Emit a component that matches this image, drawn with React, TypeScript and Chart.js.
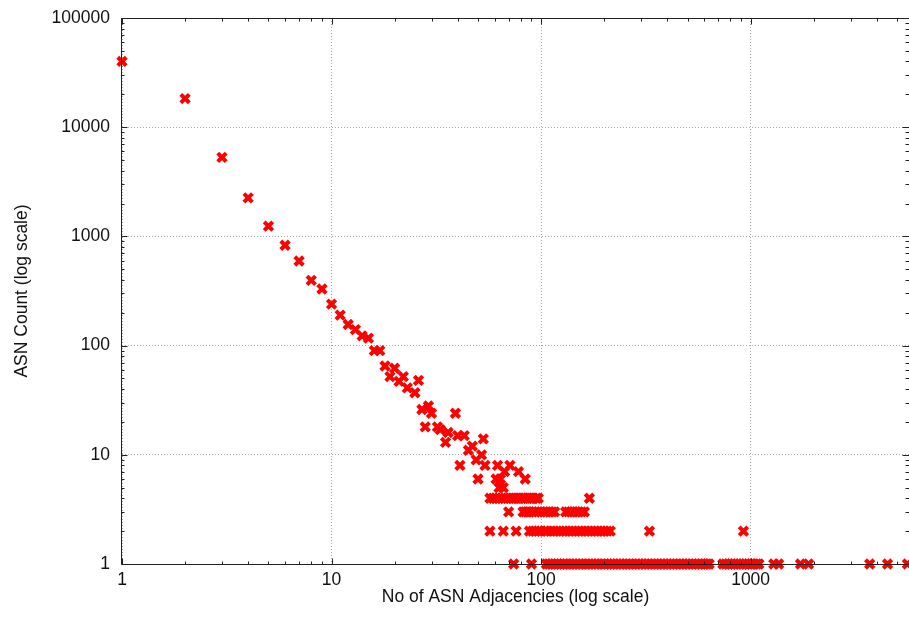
import React, { useEffect, useRef } from "react";
import { Chart, registerables } from "chart.js";

Chart.register(...registerables);

// Distinct (degree, count) points of the head of the distribution
const headDegrees = [1, 2, 3, 4, 5, 6, 7, 8, 9, 10, 11, 12, 13, 14, 15, 16, 17, 18, 19, 20, 21, 22, 23, 25, 26, 27, 28, 29, 30, 32, 33, 35, 36, 39, 40, 41, 43, 45, 47, 49, 50, 52, 53, 54, 61, 62, 63, 64, 66, 67, 71, 78, 84];
const headCounts = [40000, 18300, 5300, 2250, 1240, 830, 595, 395, 330, 240, 190, 156, 140, 123, 117, 90, 90, 65, 52, 62, 47, 52, 41, 37, 48, 26, 18, 28, 24, 18, 17, 13, 16, 24, 15, 8, 15, 11, 12, 9, 6, 10, 14, 8, 6, 8, 5, 6, 5, 7, 8, 7, 6];

// Degrees whose ASN count is 4, 3, 2 and 1
const degreesWithCount4 = [57, 59, 61, 63, 65, 67, 69, 71, 73, 75, 77, 79, 81, 83, 86, 88, 90, 92, 95, 97, 170];
const degreesWithCount3 = [70, 82, 84, 86, 88, 91, 94, 97, 100, 103, 106, 110, 113, 116, 131, 135, 139, 143, 147, 151, 156, 161];
const degreesWithCount2 = [57, 66, 76, 88, 91, 94, 97, 100, 104, 107, 111, 115, 119, 123, 127, 131, 136, 141, 146, 151, 156, 162, 168, 174, 180, 186, 193, 200, 207, 214, 329, 924];
const degreesWithCount1 = [74, 90, 106, 109, 112, 116, 120, 124, 128, 132, 137, 142, 147, 152, 157, 163, 169, 175, 181, 187, 194, 201, 208, 215, 222, 230, 238, 246, 255, 264, 273, 283, 293, 303, 314, 325, 336, 348, 360, 373, 386, 400, 414, 428, 443, 459, 475, 492, 509, 527, 545, 564, 584, 605, 620, 634, 737, 760, 785, 810, 836, 862, 890, 918, 947, 977, 1008, 1040, 1070, 1095, 1290, 1360, 1730, 1890, 3700, 4500, 5600];

const xMin = 1;
const xMax = 5700;
const yMin = 1;
const yMax = 100000;
const xTickLabels = ["1", "10", "100", "1000"];
const yTickLabels = ["1", "10", "100", "1000", "10000", "100000"];

const xTitle = "No of ASN Adjacencies (log scale)";
const yTitle = "ASN Count (log scale)";

const FONT = "'Liberation Sans', Arial, sans-serif";
const FONT_SIZE = 17.5;

function logTicks(min: number, max: number) {
  const out: { value: number }[] = [];
  for (let p = 1; p <= max * 10; p *= 10) {
    for (let m = 1; m <= 9; m++) {
      const v = m * p;
      if (v >= min && v <= max) out.push({ value: v });
    }
  }
  return out;
}

function isMajor(v: number) {
  const l = Math.log10(v);
  return Math.abs(l - Math.round(l)) < 1e-9;
}

function clearPadding(s: any) {
  s.paddingTop = 0;
  s.paddingBottom = 0;
  s.paddingLeft = 0;
  s.paddingRight = 0;
}

const boxPlugin = {
  id: "boxAndInsideTicks",
  afterDatasetsDraw(chart: any) {
    const { ctx, chartArea } = chart;
    const { left, right, top, bottom } = chartArea;
    const xs = chart.scales.x;
    const ys = chart.scales.y;
    ctx.save();
    ctx.strokeStyle = "#222";
    ctx.lineWidth = 1;
    ctx.beginPath();
    const L = Math.round(left) - 0.5;
    const R = Math.round(right) + 0.5;
    const T = Math.round(top) + 0.5;
    const B = Math.round(bottom) + 0.5;
    ctx.moveTo(L, T);
    ctx.lineTo(R, T);
    ctx.lineTo(R, B);
    ctx.lineTo(L, B);
    ctx.closePath();
    xs.ticks.forEach((t: any) => {
      const px = Math.round(xs.getPixelForValue(t.value)) + 0.5;
      const len = isMajor(t.value) ? 6 : 3;
      ctx.moveTo(px, B);
      ctx.lineTo(px, B - len);
      ctx.moveTo(px, T);
      ctx.lineTo(px, T + len);
    });
    ys.ticks.forEach((t: any) => {
      const py = Math.round(ys.getPixelForValue(t.value)) + 0.5;
      const len = isMajor(t.value) ? 6 : 3;
      ctx.moveTo(L, py);
      ctx.lineTo(L + len, py);
      ctx.moveTo(R, py);
      ctx.lineTo(R - len - 1, py);
    });
    ctx.stroke();
    ctx.restore();
  },
};

export default function App() {
  const canvasRef = useRef<HTMLCanvasElement | null>(null);

  useEffect(() => {
    const canvas = canvasRef.current;
    if (!canvas) return;

    const points: { x: number; y: number }[] = [];
    headDegrees.forEach((d, i) => points.push({ x: d, y: headCounts[i] }));
    degreesWithCount4.forEach((d) => points.push({ x: d, y: 4 }));
    degreesWithCount3.forEach((d) => points.push({ x: d, y: 3 }));
    degreesWithCount2.forEach((d) => points.push({ x: d, y: 2 }));
    degreesWithCount1.forEach((d) => points.push({ x: d, y: 1 }));

    const gridColor = (c: any) => (c.tick && isMajor(c.tick.value) ? "#a8a8a8" : "rgba(0,0,0,0)");

    const chart = new Chart(canvas, {
      type: "scatter",
      data: {
        datasets: [
          {
            label: "ASN count",
            data: points,
            pointStyle: "crossRot",
            pointRadius: 6,
            pointBorderWidth: 4,
            borderColor: "#ff0000",
            backgroundColor: "#ff0000",
            clip: false as any,
          },
        ],
      },
      options: {
        responsive: false,
        animation: false,
        devicePixelRatio: 1,
        layout: { autoPadding: false, padding: { top: 18, right: 0, left: 0, bottom: 0 } },
        plugins: {
          legend: { display: false },
          tooltip: { enabled: false },
        },
        scales: {
          x: {
            type: "logarithmic",
            min: xMin,
            max: xMax,
            afterBuildTicks: (s: any) => {
              s.ticks = logTicks(xMin, xMax);
            },
            afterFit: (s: any) => {
              s.height = 55;
              clearPadding(s);
            },
            ticks: {
              autoSkip: false,
              maxRotation: 0,
              padding: 6,
              color: "#111",
              font: { family: FONT, size: FONT_SIZE },
              callback: (v: any) => {
                const i = Math.round(Math.log10(Number(v)));
                return isMajor(Number(v)) ? xTickLabels[i] ?? "" : "";
              },
            },
            grid: { color: gridColor, lineWidth: 1, drawTicks: false },
            border: { display: false, dash: [1, 2] },
            title: {
              display: true,
              text: xTitle,
              color: "#111",
              font: { family: FONT, size: FONT_SIZE },
              padding: { top: 0, bottom: 11 },
            },
          },
          y: {
            type: "logarithmic",
            min: yMin,
            max: yMax,
            afterBuildTicks: (s: any) => {
              s.ticks = logTicks(yMin, yMax);
            },
            afterFit: (s: any) => {
              s.width = 122;
              clearPadding(s);
            },
            ticks: {
              autoSkip: false,
              padding: 12,
              color: "#111",
              font: { family: FONT, size: FONT_SIZE },
              callback: (v: any) => {
                const i = Math.round(Math.log10(Number(v)));
                return isMajor(Number(v)) ? yTickLabels[i] ?? "" : "";
              },
            },
            grid: { color: gridColor, lineWidth: 1, drawTicks: false },
            border: { display: false, dash: [1, 2] },
            title: {
              display: true,
              text: yTitle,
              color: "#111",
              font: { family: FONT, size: FONT_SIZE },
              padding: { top: 12, bottom: 0 },
            },
          },
        },
      },
      plugins: [boxPlugin],
    });

    return () => chart.destroy();
  }, []);

  return (
    <div style={{ position: "absolute", left: 0, top: 0, width: 909, height: 619, background: "#fff" }}>
      <canvas ref={canvasRef} width={909} height={619} style={{ display: "block", width: 909, height: 619 }} />
    </div>
  );
}
